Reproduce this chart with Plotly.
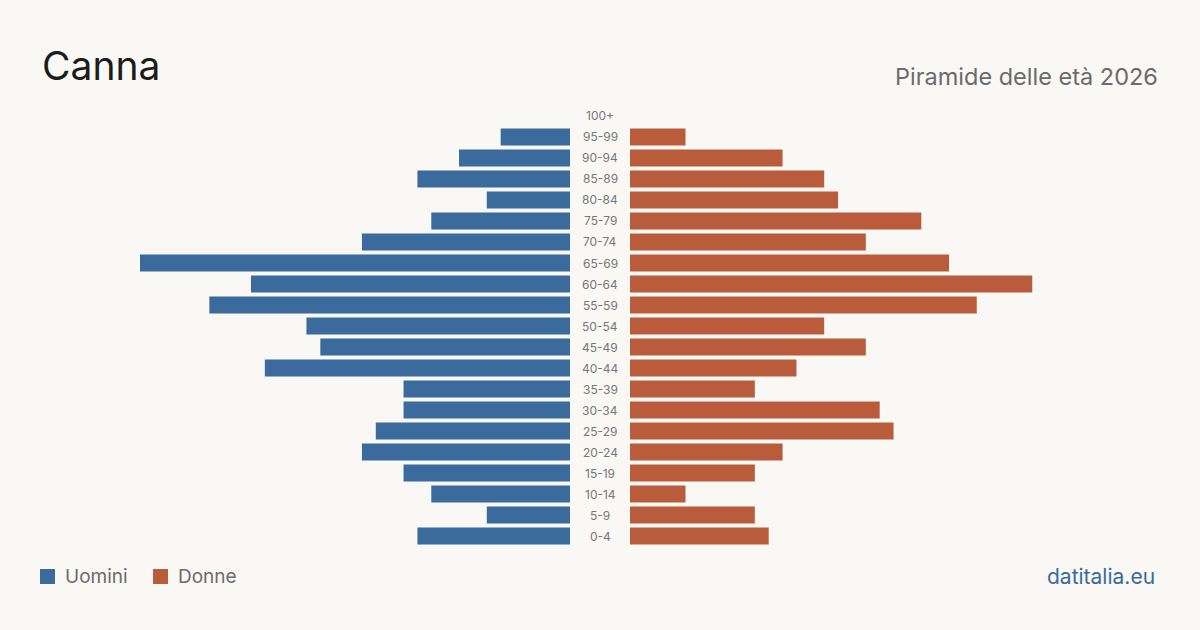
import plotly.graph_objects as go

age_groups = ["0-4", "5-9", "10-14", "15-19", "20-24", "25-29", "30-34", "35-39",
              "40-44", "45-49", "50-54", "55-59", "60-64", "65-69", "70-74",
              "75-79", "80-84", "85-89", "90-94", "95-99", "100+"]
uomini = [11, 6, 10, 12, 15, 14, 12, 12, 22, 18, 19, 26, 23, 31, 15, 10, 6, 11, 8, 5, 0]
donne = [10, 9, 4, 9, 11, 19, 18, 9, 12, 17, 14, 25, 29, 23, 17, 21, 15, 14, 11, 4, 0]

BLUE = "#3a6b9c"
ORANGE = "#b95c3c"
BG = "#f9f8f4"
GRAY = "#6b6b6b"
LABEL_GRAY = "#777777"
FONT = "Inter, Roboto, sans-serif"

W, H = 1200, 630
vmax = max(max(uomini), max(donne))

fig = go.Figure()
fig.add_trace(go.Bar(y=age_groups, x=uomini, orientation="h", marker_color=BLUE,
                     marker_line_width=0,
                     xaxis="x", yaxis="y", name="Uomini", showlegend=False,
                     hovertemplate="%{y}: %{x}<extra>Uomini</extra>"))
fig.add_trace(go.Bar(y=age_groups, x=donne, orientation="h", marker_color=ORANGE,
                     marker_line_width=0,
                     xaxis="x2", yaxis="y", name="Donne", showlegend=False,
                     hovertemplate="%{y}: %{x}<extra>Donne</extra>"))

annotations = []
for g in age_groups:
    annotations.append(dict(x=0.5, xref="paper", y=g, yref="y", text=g, showarrow=False,
                            font=dict(family=FONT, size=12, color=LABEL_GRAY),
                            xanchor="center", yanchor="middle"))

annotations += [
    dict(x=40 / W, y=1 - 66 / H, xref="paper", yref="paper", text="Canna", showarrow=False,
         xanchor="left", yanchor="middle", font=dict(family=FONT, size=39, color="#1c1c1c")),
    dict(x=1160 / W, y=1 - 76 / H, xref="paper", yref="paper", text="Piramide delle età 2026",
         showarrow=False, xanchor="right", yanchor="middle",
         font=dict(family=FONT, size=23.5, color=GRAY)),
    dict(x=63 / W, y=1 - 576 / H, xref="paper", yref="paper", text="Uomini", showarrow=False,
         xanchor="left", yanchor="middle", font=dict(family=FONT, size=19, color=GRAY)),
    dict(x=176 / W, y=1 - 576 / H, xref="paper", yref="paper", text="Donne", showarrow=False,
         xanchor="left", yanchor="middle", font=dict(family=FONT, size=19, color=GRAY)),
    dict(x=1157 / W, y=1 - 576 / H, xref="paper", yref="paper", text="datitalia.eu",
         showarrow=False, xanchor="right", yanchor="middle",
         font=dict(family=FONT, size=21, color=BLUE)),
]

shapes = [
    dict(type="rect", xref="paper", yref="paper", x0=40 / W, x1=55 / W,
         y0=1 - 584 / H, y1=1 - 569 / H, fillcolor=BLUE, line_width=0),
    dict(type="rect", xref="paper", yref="paper", x0=153 / W, x1=168 / W,
         y0=1 - 584 / H, y1=1 - 569 / H, fillcolor=ORANGE, line_width=0),
]

top_px, bot_px = 105.5, 546.5
fig.update_layout(
    width=W, height=H,
    paper_bgcolor=BG, plot_bgcolor=BG,
    margin=dict(l=0, r=0, t=0, b=0),
    bargap=0.19,
    xaxis=dict(domain=[140 / W, 570 / W], range=[vmax, 0], visible=False, fixedrange=True),
    xaxis2=dict(domain=[630 / W, 1060 / W], range=[0, vmax], visible=False, fixedrange=True),
    yaxis=dict(domain=[1 - bot_px / H, 1 - top_px / H], type="category",
               categoryorder="array", categoryarray=age_groups,
               range=[-0.5, len(age_groups) - 0.5], visible=False, fixedrange=True),
    annotations=annotations,
    shapes=shapes,
    font=dict(family=FONT),
    showlegend=False,
)

fig.write_html("out.html")
